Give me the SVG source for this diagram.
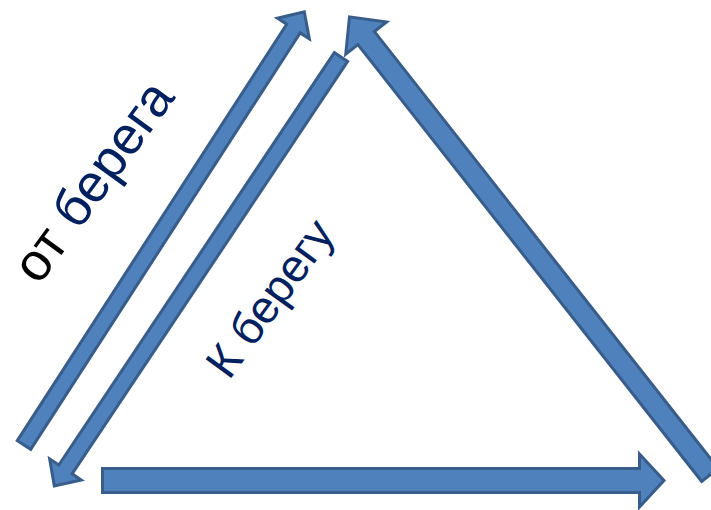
<svg xmlns="http://www.w3.org/2000/svg" width="711" height="510" viewBox="0 0 711 510">
<style>
.arr{fill:#4F81BD;stroke:#385D8A;stroke-width:3;stroke-linejoin:miter}
.lbl{font-family:"Liberation Sans",Arial,sans-serif;fill:#002060}
</style>
<rect width="711" height="510" fill="#ffffff"/>
<g id="connectors">
<path id="arrow-ot-berega" class="arr" transform="translate(24,445) rotate(-57.1)" d="M0,-8 H496 V-19 L516,0 L496,19 V8 H0 Z"/>
<path id="arrow-k-beregu" class="arr" transform="translate(341,57) rotate(123.75)" d="M0,-8 H496 V-19 L516,0 L496,19 V8 H0 Z"/>
<path id="arrow-bottom" class="arr" d="M102.5,468.5 H639.5 V454 L664,480.5 L639.5,507 V492.5 H102.5 Z"/>
<path id="arrow-right" class="arr" transform="translate(710,475) rotate(-128.2)" d="M0,-10.5 H556 V-26 L583,0 L556,26 V10.5 H0 Z"/>
</g>
<g id="label-ot-berega">
<text class="lbl" font-size="53" transform="translate(39,286) rotate(-54)"><tspan fill="#000000">от </tspan>берега</text>
</g>
<g id="label-k-beregu">
<text class="lbl" font-size="46" transform="translate(229,381) rotate(-54)">К берегу</text>
</g>
</svg>
